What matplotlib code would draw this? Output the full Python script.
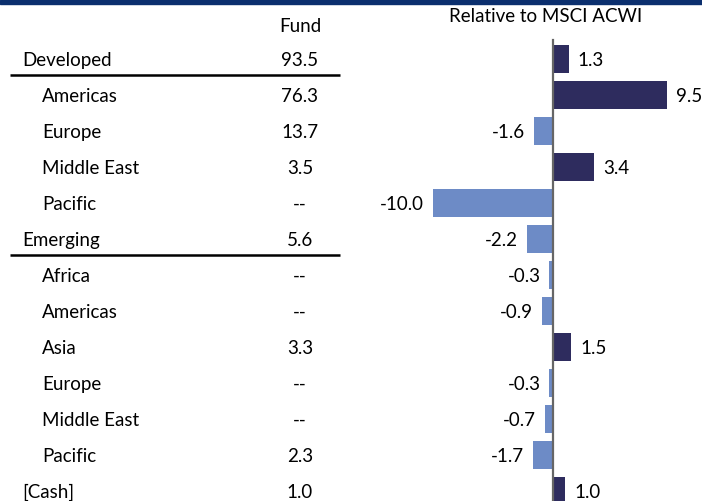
import matplotlib
matplotlib.use("Agg")
import matplotlib.pyplot as plt
import matplotlib.transforms as mtransforms
from matplotlib.patches import Rectangle

plt.rcParams['font.family'] = ['Lato', 'DejaVu Sans']

categories = ["Developed", "Americas", "Europe", "Middle East", "Pacific",
              "Emerging", "Africa", "Americas", "Asia", "Europe",
              "Middle East", "Pacific", "[Cash]"]
is_group = [True, False, False, False, False,
            True, False, False, False, False, False, False, True]
fund = ["93.5", "76.3", "13.7", "3.5", "--",
        "5.6", "--", "--", "3.3", "--", "--", "2.3", "1.0"]
relative = [1.3, 9.5, -1.6, 3.4, -10.0, -2.2, -0.3, -0.9, 1.5, -0.3, -0.7, -1.7, 1.0]

pos_color = "#2e2c5e"
neg_color = "#6d8bc6"
FS = 13.5

W, H = 702, 501
fig = plt.figure(figsize=(W / 100, H / 100), dpi=100)
ax = fig.add_axes([0, 0, 1, 1])

px_per_unit = 12.0
zero_px = 553
row0_px = 59
row_h = 36
ax.set_xlim(-zero_px / px_per_unit, (W - zero_px) / px_per_unit)
ax.set_ylim((H - row0_px) / row_h, -row0_px / row_h)
ax.axis("off")

ys = list(range(len(categories)))
colors = [pos_color if v >= 0 else neg_color for v in relative]
ax.barh(ys, relative, height=0.79, color=colors, zorder=2)

# zero axis line
ax.axvline(0, ymin=0, ymax=(H - 40) / H, color="#666666", lw=1.6, zorder=3)

base_off = 7.0 / row_h  # baseline offset so cap-height is centred on row

# value labels
for y, v in zip(ys, relative):
    if v >= 0:
        ax.text(v + 0.75, y + base_off, f"{v:.1f}", ha="left", va="baseline", fontsize=FS, color="black")
    else:
        ax.text(v - 0.75, y + base_off, f"{v:.1f}", ha="right", va="baseline", fontsize=FS, color="black")

# table (x in figure fraction, y in data)
trans = mtransforms.blended_transform_factory(ax.transAxes, ax.transData)
for y, name, grp, f in zip(ys, categories, is_group, fund):
    x0 = 22 if grp else 42
    ax.text(x0 / W, y + base_off, name, transform=trans, ha="left", va="baseline", fontsize=FS)
    ax.text(300 / W, y + base_off, f, transform=trans, ha="center", va="baseline", fontsize=FS)

for y, grp in zip(ys, is_group):
    if grp and y != ys[-1]:
        ax.plot([10 / W, 340 / W], [y + 0.45, y + 0.45], transform=trans,
                color="black", lw=1.8, solid_capstyle="butt")

ax.text(300 / W, -0.75, "Fund", transform=trans, ha="center", va="baseline", fontsize=FS)
ax.text(546 / W, -1.04, "Relative to MSCI ACWI", transform=trans, ha="center", va="baseline", fontsize=FS)

fig.add_artist(Rectangle((0, 1 - 3.5 / H), 1, 3.5 / H, transform=fig.transFigure,
                         color="#0b2f6e", zorder=5))

fig.savefig("out.png", dpi=100)
